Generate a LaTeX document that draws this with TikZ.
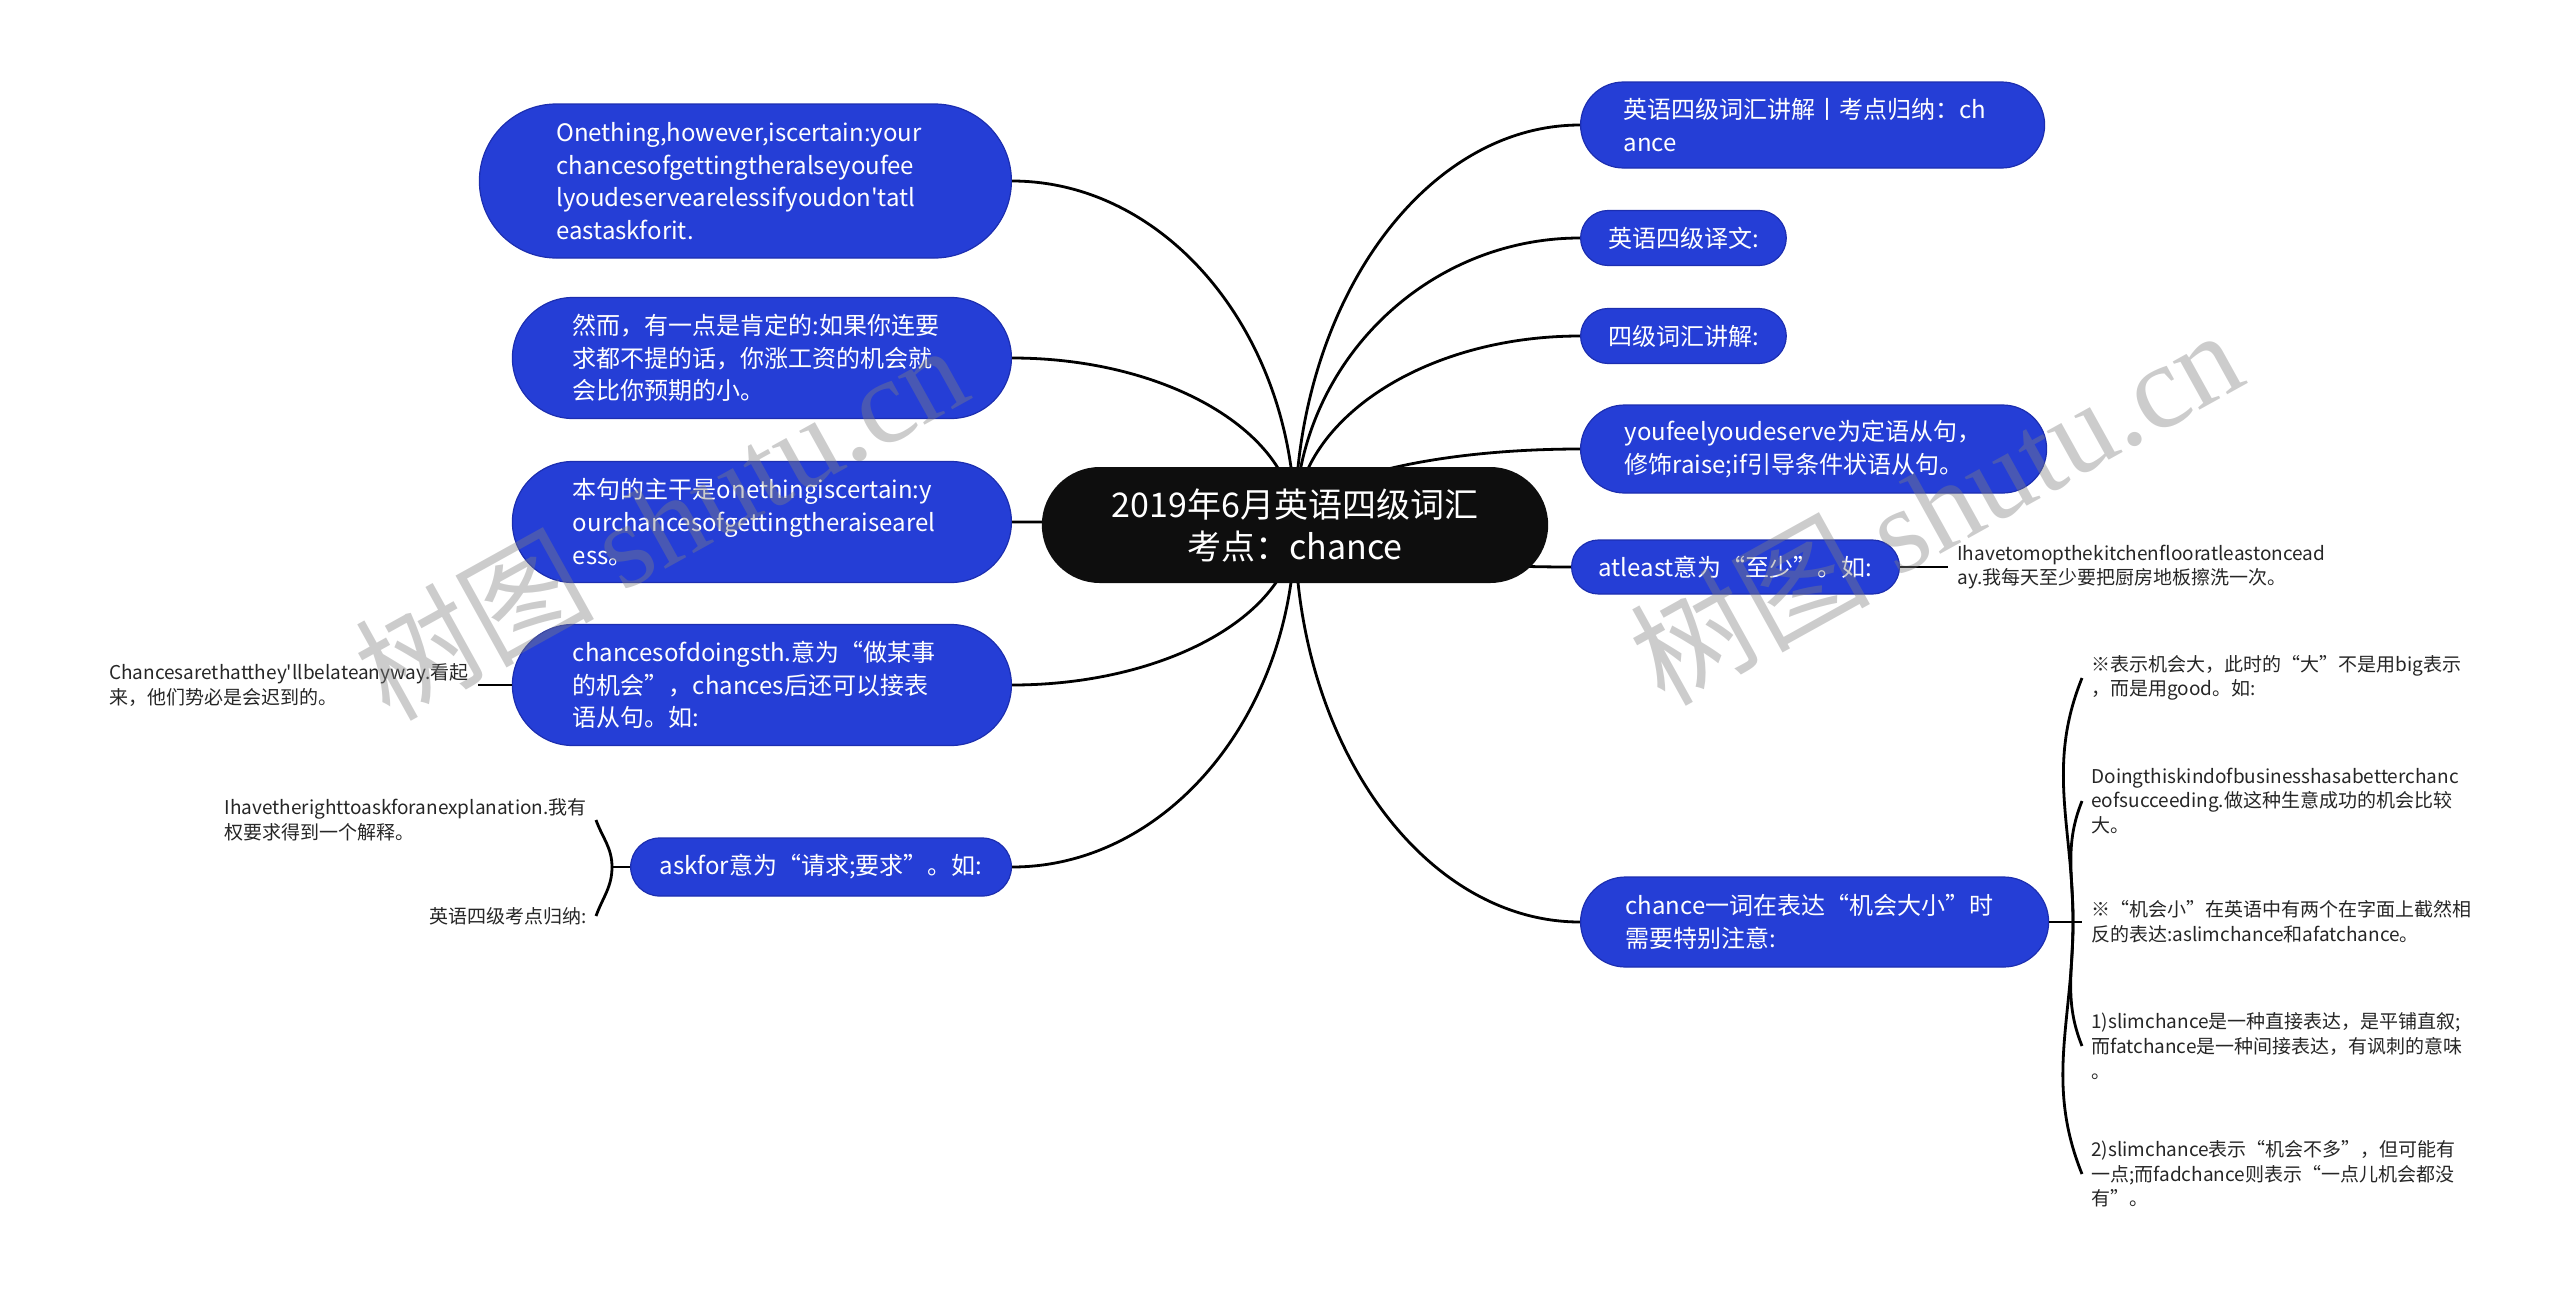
\documentclass[tikz,border=0pt]{standalone}
\usepackage{fontspec}
\setmainfont{Noto Sans CJK SC}[Ligatures=TeXOff]
\newfontfamily\wmserif{Liberation Serif}
\usetikzlibrary{calc,backgrounds}
\definecolor{topicblue}{RGB}{37,62,214}
\definecolor{topicedge}{RGB}{28,46,176}
\definecolor{rootblack}{RGB}{14,14,14}

\begin{document}
\begin{tikzpicture}
  [x=0.5pt,y=0.5pt,
   pill/.style={minimum height=#1,rounded corners=#1/2,inner xsep=#1/2},
   topicbox/.style={fill=topicblue,draw=topicedge,line width=.6pt,
     text=white,align=left,inner ysep=0pt,
     font=\fontsize{12}{16.3}\selectfont},
   wide/.style={text width=189pt},
   rootbox/.style={fill=rootblack,text=white,align=center,
     inner xsep=35pt,inner ysep=0pt,minimum height=58pt,rounded corners=29pt,
     font=\fontsize{17}{21}\selectfont},
   leaftext/.style={align=left,inner xsep=4.5pt,inner ysep=0pt,text=black!85,
     font=\fontsize{9.5}{12.3}\selectfont},
   linkline/.style={line width=1.4pt},
   mainlink/.style={linkline,to path={let \p1=(\tikztostart), \p2=(\tikztotarget) in
     .. controls (\x1,{\y1+.55*(\y2-\y1)}) and ({\x2+.55*(\x1-\x2)},\y2) .. (\tikztotarget)}},
   wmark/.style={text=gray,text opacity=.4,rotate=29,font=\fontsize{60}{60}\selectfont}]
  \useasboundingbox (0,0) rectangle (2560,-1296);

  \node[rootbox] (root) at (1295,-525) {2019年6月英语四级词汇\\考点：chance};

  % left side
  \node[topicbox,wide,anchor=east,pill=77pt] (l1) at (1012,-181)
    {Onething,however,iscertain:your\\chancesofgettingtheralseyoufee\\lyoudeservearelessifyoudon'tatl\\eastaskforit.};
  \node[topicbox,wide,anchor=east,pill=60.5pt] (l2) at (1012,-358)
    {然而，有一点是肯定的:如果你连要\\求都不提的话，你涨工资的机会就\\会比你预期的小。};
  \node[topicbox,wide,anchor=east,pill=60.5pt] (l3) at (1012,-522)
    {本句的主干是onethingiscertain:y\\ourchancesofgettingtheraisearel\\ess。};
  \node[topicbox,wide,anchor=east,pill=60.5pt] (l4) at (1012,-685)
    {chancesofdoingsth.意为“做某事\\的机会”，chances后还可以接表\\语从句。如:};
  \node[topicbox,anchor=east,pill=29pt] (l5) at (1012,-867)
    {askfor意为“请求;要求”。如:};

  \node[leaftext,anchor=east] (k4) at (478,-685)
    {Chancesarethatthey'llbelateanyway.看起\\来，他们势必是会迟到的。};
  \coordinate (j5) at (612,-867);
  \node[leaftext,anchor=east] (a1) at (596,-820)
    {Ihavetherighttoaskforanexplanation.我有\\权要求得到一个解释。};
  \node[leaftext,anchor=east] (a2) at (596,-916) {英语四级考点归纳:};

  % right side
  \node[topicbox,wide,anchor=west,pill=43pt] (r1) at (1580,-125)
    {英语四级词汇讲解丨考点归纳：ch\\ance};
  \node[topicbox,anchor=west,pill=27.5pt] (r2) at (1580,-238) {英语四级译文:};
  \node[topicbox,anchor=west,pill=27.5pt] (r3) at (1580,-336) {四级词汇讲解:};
  \node[topicbox,wide,anchor=west,pill=44pt] (r4) at (1580,-449)
    {youfeelyoudeserve为定语从句，\\修饰raise;if引导条件状语从句。};
  \node[topicbox,anchor=west,pill=27pt] (r5) at (1571,-567)
    {atleast意为“至少”。如:};
  \node[topicbox,wide,anchor=west,pill=45pt] (r6) at (1580,-922)
    {chance一词在表达“机会大小”时\\需要特别注意:};

  \node[leaftext,anchor=west] (k5) at (1948,-567)
    {Ihavetomopthekitchenflooratleastoncead\\ay.我每天至少要把厨房地板擦洗一次。};
  \coordinate (j6) at (2073,-922);
  \node[leaftext,anchor=west] (c1) at (2082,-678)
    {※表示机会大，此时的“大”不是用big表示\\，而是用good。如:};
  \node[leaftext,anchor=west] (c2) at (2082,-801)
    {Doingthiskindofbusinesshasabetterchanc\\eofsucceeding.做这种生意成功的机会比较\\大。};
  \node[leaftext,anchor=west] (c3) at (2082,-922)
    {※“机会小”在英语中有两个在字面上截然相\\反的表达:aslimchance和afatchance。};
  \node[leaftext,anchor=west] (c4) at (2082,-1046)
    {1)slimchance是一种直接表达，是平铺直叙;\\而fatchance是一种间接表达，有讽刺的意味\\。};
  \node[leaftext,anchor=west] (c5) at (2082,-1174)
    {2)slimchance表示“机会不多”，但可能有\\一点;而fadchance则表示“一点儿机会都没\\有”。};

  \begin{scope}[on background layer]
    \foreach \to in {l1,l2,l3,l4,l5}
      \draw[mainlink] (root.center) to (\to.east);
    \foreach \to in {r1,r2,r3,r4,r5,r6}
      \draw[mainlink] (root.center) to (\to.west);
  \end{scope}

  \draw[linkline] (l4.west) -- (k4.east);
  \draw[linkline] (l5.west) -- (j5);
  \draw[linkline] (j5) to[out=90,in=-70] (a1.east);
  \draw[linkline] (j5) to[out=-90,in=70] (a2.east);

  \draw[linkline] (r5.east) -- (k5.west);
  \draw[linkline] (r6.east) -- (j6) -- (c3.west);
  \foreach \to in {c1,c2}
    \draw[linkline] (j6) to[out=90,in=-112] (\to.west);
  \foreach \to in {c4,c5}
    \draw[linkline] (j6) to[out=-90,in=112] (\to.west);

  % watermarks
  \node[wmark] (wm1) at (660,-520) {树图 {\wmserif shutu.cn}};
  \node[wmark] (wm2) at (1935,-505) {树图 {\wmserif shutu.cn}};
\end{tikzpicture}
\end{document}
